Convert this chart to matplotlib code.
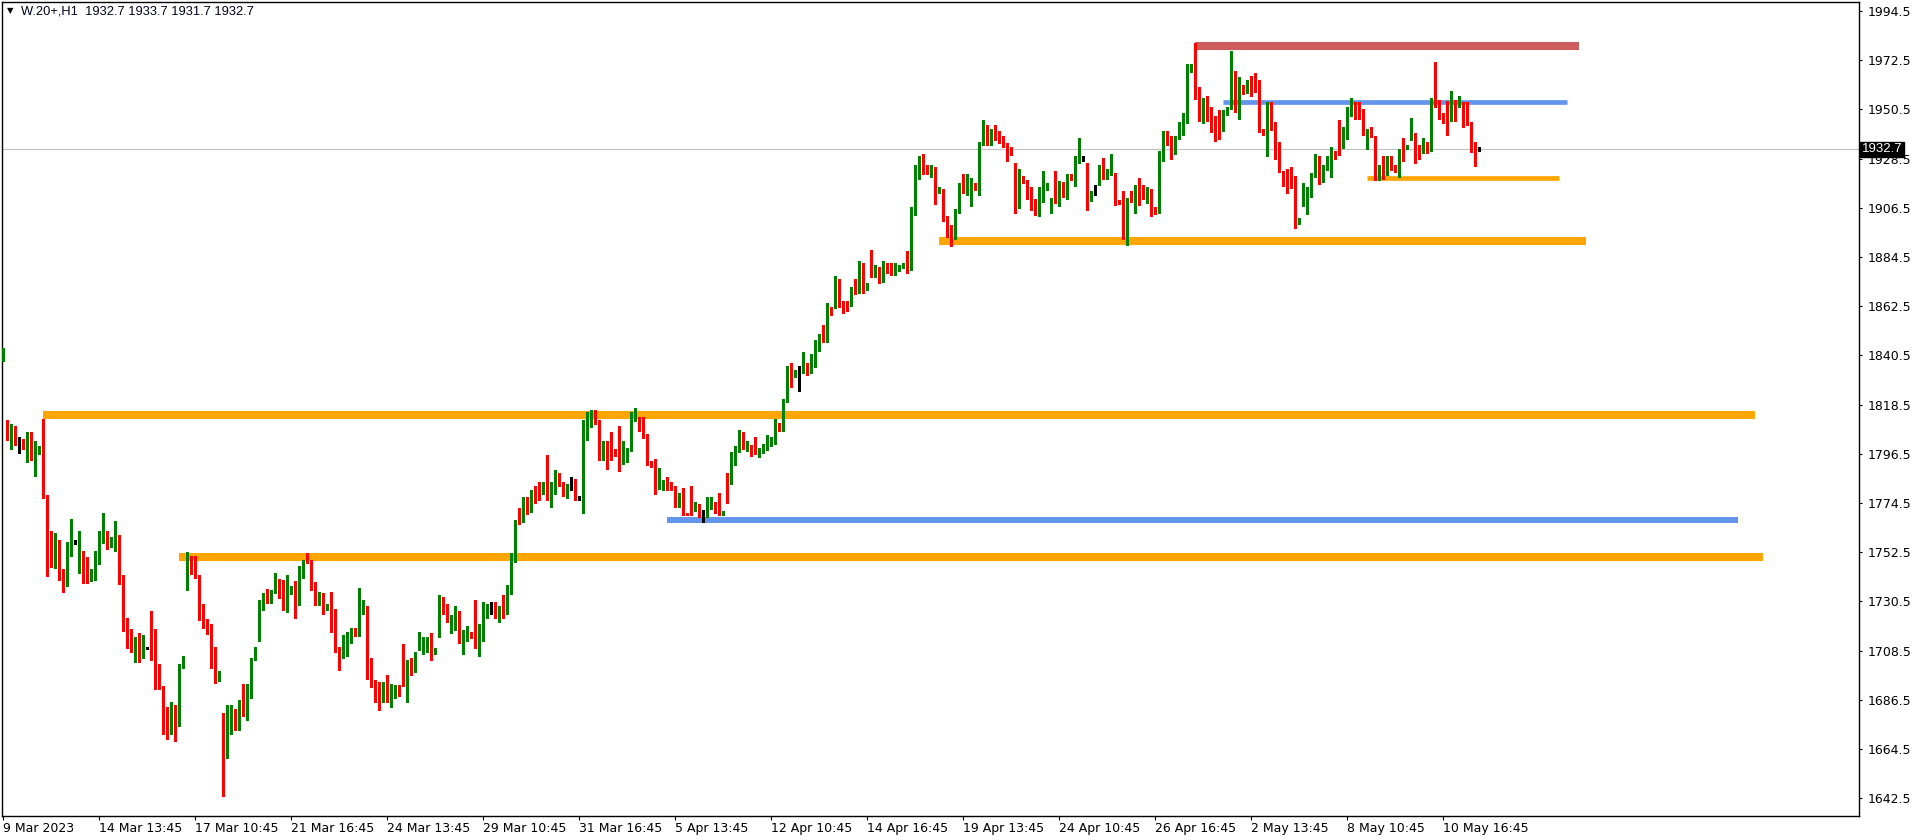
import matplotlib
matplotlib.use("Agg")
import matplotlib.pyplot as plt
import matplotlib.transforms as mtransforms
import numpy as np

# ─────────────────────────────────────────────
# DATOS: velas H1 de W.20+
# ─────────────────────────────────────────────
OPEN = [
    1838.4, 1810.8, 1805.1, 1806.3, 1803.3, 1802.4, 1799.7, 1805.4, 1793.8, 1797.1,
    1811.7, 1778.0, 1753.2, 1747.9, 1756.2, 1739.2, 1737.2, 1755.0, 1756.2, 1746.1,
    1749.1, 1748.2, 1741.3, 1745.2, 1747.9, 1758.9, 1761.0, 1755.9, 1754.4, 1756.2,
    1741.3, 1721.4, 1718.1, 1708.9, 1714.2, 1708.0, 1709.1, 1718.7, 1716.3, 1696.3,
    1691.3, 1675.8, 1674.0, 1679.3, 1674.9, 1700.8, 1744.6, 1749.7, 1747.3, 1742.5,
    1726.4, 1722.6, 1719.6, 1704.4, 1695.1, 1677.3, 1660.3, 1671.6, 1681.7, 1673.1,
    1684.4, 1682.0, 1688.0, 1704.1, 1723.2, 1730.9, 1732.7, 1733.0, 1734.2, 1740.4,
    1735.4, 1728.2, 1733.9, 1738.9, 1730.0, 1743.7, 1749.4, 1748.2, 1735.1, 1730.6,
    1734.2, 1726.7, 1725.8, 1721.4, 1710.0, 1705.0, 1709.7, 1712.1, 1717.2, 1715.1,
    1725.0, 1726.7, 1697.2, 1695.4, 1691.6, 1687.1, 1690.7, 1686.2, 1689.3, 1690.7,
    1699.9, 1694.0, 1700.5, 1699.9, 1708.9, 1711.2, 1711.2, 1713.3, 1708.1, 1715.4,
    1731.2, 1726.4, 1720.2, 1721.1, 1724.6, 1712.1, 1713.9, 1715.7, 1729.1, 1711.2,
    1713.0, 1727.3, 1728.5, 1729.4, 1723.1, 1727.6, 1727.0, 1736.0, 1750.0, 1767.2,
    1765.8, 1774.1, 1772.0, 1780.4, 1779.5, 1778.6, 1789.9, 1775.0, 1778.6, 1788.1,
    1783.9, 1780.1, 1780.9, 1782.2, 1777.1, 1770.2, 1806.0, 1808.7, 1811.4, 1809.9,
    1794.4, 1801.5, 1799.1, 1797.4, 1801.2, 1792.0, 1797.1, 1798.8, 1811.7, 1812.9,
    1806.3, 1803.9, 1793.2, 1788.4, 1780.9, 1781.9, 1783.0, 1782.2, 1782.2, 1773.8,
    1777.1, 1769.9, 1772.6, 1770.8, 1772.3, 1769.3, 1769.9, 1772.9, 1774.1, 1770.8,
    1769.0, 1784.8, 1782.8, 1795.6, 1799.7, 1805.4, 1799.7, 1800.6, 1800.0, 1796.8,
    1798.3, 1799.5, 1802.0, 1802.7, 1809.0, 1806.9, 1821.5, 1832.2, 1831.6, 1833.1,
    1832.8, 1834.9, 1832.8, 1835.5, 1844.7, 1848.0, 1846.5, 1862.3, 1868.8, 1871.2,
    1864.1, 1864.1, 1862.6, 1871.8, 1870.6, 1881.9, 1869.7, 1879.0, 1877.5, 1878.7,
    1873.3, 1881.1, 1879.0, 1877.2, 1879.0, 1880.5, 1887.0, 1878.7, 1903.4, 1921.9,
    1927.8, 1924.6, 1921.6, 1923.1, 1913.5, 1914.4, 1902.8, 1896.9, 1892.7, 1904.3,
    1917.4, 1912.3, 1915.3, 1916.5, 1915.0, 1936.5, 1941.6, 1937.4, 1941.6, 1936.8,
    1936.8, 1934.4, 1932.6, 1924.3, 1906.4, 1920.7, 1917.7, 1915.7, 1906.9, 1906.4,
    1911.5, 1915.4, 1907.3, 1910.0, 1907.3, 1916.9, 1913.3, 1920.7, 1919.5, 1926.7,
    1928.8, 1923.4, 1909.7, 1913.9, 1916.6, 1922.8, 1919.5, 1921.0, 1921.9, 1909.1,
    1898.4, 1892.7, 1910.3, 1910.0, 1916.6, 1912.7, 1910.6, 1913.9, 1906.7, 1904.3,
    1929.4, 1938.8, 1937.7, 1930.6, 1937.4, 1939.2, 1944.6, 1967.2, 1980.3, 1960.7,
    1947.6, 1954.7, 1949.6, 1946.7, 1941.2, 1940.7, 1947.9, 1951.7, 1966.6, 1954.4,
    1961.0, 1957.7, 1963.8, 1962.9, 1962.8, 1940.7, 1933.9, 1952.9, 1944.0, 1934.4,
    1922.8, 1919.8, 1919.0, 1918.1, 1900.5, 1908.2, 1910.6, 1911.5, 1920.4, 1928.8,
    1919.5, 1925.2, 1927.6, 1931.8, 1941.3, 1933.3, 1938.0, 1949.3, 1951.7, 1948.2,
    1947.6, 1938.3, 1941.9, 1935.0, 1920.4, 1923.9, 1922.5, 1928.8, 1925.8, 1922.5,
    1933.6, 1932.7, 1938.3, 1938.6, 1933.6, 1930.9, 1933.6, 1931.8, 1954.4, 1951.4,
    1946.9, 1954.1, 1950.5, 1954.7, 1951.4, 1952.6, 1949.9, 1944.9, 1935.9, 1932.7,
]
HIGH = [
    1843.8, 1811.4, 1809.9, 1809.0, 1804.2, 1803.3, 1806.3, 1806.3, 1802.4, 1800.0,
    1812.0, 1778.0, 1761.9, 1761.0, 1758.0, 1744.9, 1757.1, 1767.3, 1758.0, 1761.9,
    1752.9, 1750.3, 1744.9, 1752.9, 1761.9, 1769.9, 1761.9, 1759.2, 1766.4, 1760.1,
    1742.2, 1723.2, 1718.1, 1714.5, 1716.3, 1715.7, 1710.3, 1726.4, 1718.1, 1702.6,
    1692.5, 1683.5, 1685.6, 1684.4, 1702.6, 1706.2, 1752.4, 1750.6, 1750.6, 1742.5,
    1729.4, 1722.6, 1720.5, 1710.3, 1699.6, 1680.5, 1684.4, 1684.4, 1682.6, 1686.5,
    1693.4, 1693.4, 1705.3, 1710.0, 1731.2, 1734.2, 1736.0, 1735.4, 1743.4, 1740.4,
    1740.1, 1742.2, 1737.5, 1739.5, 1746.4, 1749.1, 1752.1, 1749.1, 1739.2, 1734.8,
    1734.2, 1729.4, 1734.5, 1727.3, 1710.0, 1715.7, 1716.9, 1718.4, 1718.4, 1736.6,
    1731.2, 1728.5, 1705.3, 1695.4, 1694.5, 1694.5, 1697.5, 1693.4, 1693.1, 1693.1,
    1711.5, 1704.4, 1705.3, 1707.7, 1716.6, 1714.8, 1714.5, 1716.3, 1709.7, 1733.3,
    1732.4, 1729.4, 1724.3, 1728.5, 1726.4, 1717.5, 1719.3, 1716.6, 1731.2, 1720.2,
    1730.3, 1729.4, 1730.3, 1730.3, 1728.5, 1733.3, 1738.0, 1752.3, 1767.0, 1772.3,
    1777.1, 1777.1, 1780.4, 1782.2, 1783.9, 1783.9, 1795.9, 1783.9, 1789.3, 1788.1,
    1783.9, 1783.0, 1786.3, 1785.4, 1777.1, 1811.4, 1815.2, 1816.1, 1816.1, 1811.4,
    1802.4, 1802.4, 1806.3, 1798.5, 1809.0, 1802.1, 1799.1, 1815.2, 1817.0, 1812.9,
    1812.9, 1805.4, 1793.2, 1794.1, 1790.2, 1784.8, 1786.3, 1783.9, 1782.2, 1778.9,
    1781.3, 1769.9, 1782.2, 1775.0, 1774.1, 1771.4, 1777.1, 1777.1, 1775.0, 1778.9,
    1770.8, 1787.8, 1797.1, 1800.0, 1807.2, 1806.3, 1802.4, 1800.6, 1803.9, 1799.0,
    1801.0, 1805.0, 1804.2, 1812.2, 1810.2, 1820.9, 1835.8, 1837.0, 1834.0, 1835.8,
    1842.0, 1837.3, 1841.1, 1847.4, 1850.1, 1854.2, 1863.8, 1862.3, 1876.0, 1874.8,
    1865.0, 1865.0, 1870.9, 1874.5, 1882.8, 1881.9, 1872.7, 1887.6, 1881.0, 1879.9,
    1882.5, 1882.0, 1882.0, 1881.7, 1881.1, 1881.7, 1887.0, 1907.0, 1925.5, 1929.6,
    1930.5, 1925.8, 1925.5, 1924.6, 1915.6, 1915.0, 1902.8, 1898.6, 1905.8, 1917.7,
    1921.6, 1921.6, 1919.8, 1917.4, 1935.9, 1945.7, 1943.3, 1941.9, 1943.3, 1940.7,
    1938.6, 1935.3, 1933.5, 1926.4, 1923.7, 1920.7, 1918.7, 1915.7, 1910.6, 1915.7,
    1922.8, 1917.5, 1910.9, 1922.8, 1918.4, 1917.8, 1921.6, 1921.6, 1929.7, 1937.7,
    1929.7, 1926.4, 1913.9, 1916.6, 1925.5, 1928.8, 1923.7, 1930.6, 1921.9, 1910.0,
    1913.9, 1910.9, 1913.9, 1916.6, 1919.8, 1916.6, 1915.7, 1914.8, 1906.7, 1931.8,
    1941.0, 1941.0, 1938.6, 1938.6, 1944.9, 1948.8, 1970.8, 1970.8, 1980.3, 1960.7,
    1955.6, 1956.5, 1951.4, 1947.6, 1950.2, 1950.2, 1951.4, 1976.8, 1967.5, 1964.8,
    1961.6, 1963.6, 1965.4, 1966.9, 1963.6, 1941.6, 1953.8, 1953.8, 1944.9, 1935.9,
    1922.8, 1923.7, 1924.9, 1920.7, 1902.0, 1917.5, 1915.7, 1921.9, 1930.6, 1929.7,
    1925.8, 1929.7, 1933.5, 1931.8, 1945.8, 1942.5, 1951.4, 1955.6, 1953.8, 1953.8,
    1950.8, 1941.9, 1942.8, 1938.6, 1925.8, 1929.7, 1929.7, 1929.7, 1925.8, 1932.7,
    1937.7, 1934.4, 1946.7, 1939.8, 1934.7, 1937.7, 1935.9, 1955.6, 1971.7, 1954.7,
    1948.8, 1954.1, 1958.6, 1954.7, 1956.5, 1953.8, 1953.8, 1944.9, 1935.9, 1933.7,
]
LOW = [
    1838.0, 1802.7, 1798.8, 1800.6, 1796.8, 1798.8, 1792.9, 1793.8, 1786.6, 1796.5,
    1776.8, 1742.0, 1746.1, 1745.5, 1740.1, 1734.8, 1737.2, 1750.9, 1756.2, 1743.1,
    1738.9, 1738.9, 1739.8, 1740.1, 1747.0, 1756.8, 1754.1, 1755.0, 1753.2, 1738.1,
    1717.2, 1709.7, 1708.0, 1703.2, 1703.2, 1705.0, 1709.1, 1704.1, 1691.3, 1691.3,
    1671.0, 1669.2, 1671.0, 1668.3, 1674.9, 1700.8, 1735.7, 1742.8, 1741.0, 1722.0,
    1718.7, 1716.1, 1700.8, 1694.2, 1695.1, 1643.5, 1660.3, 1671.0, 1673.1, 1673.1,
    1679.1, 1677.3, 1687.1, 1704.1, 1713.0, 1726.7, 1730.0, 1730.0, 1734.2, 1731.8,
    1726.7, 1725.8, 1733.9, 1722.9, 1729.1, 1741.0, 1747.6, 1735.7, 1728.8, 1729.1,
    1724.9, 1726.7, 1716.9, 1708.0, 1699.9, 1705.0, 1705.9, 1712.1, 1715.1, 1715.1,
    1725.0, 1696.0, 1692.2, 1685.3, 1682.0, 1685.3, 1685.3, 1683.2, 1687.1, 1688.3,
    1692.5, 1685.3, 1697.5, 1699.0, 1708.9, 1707.1, 1708.0, 1704.1, 1707.1, 1714.8,
    1724.9, 1721.1, 1716.3, 1717.8, 1712.1, 1707.1, 1713.0, 1714.2, 1709.7, 1705.9,
    1713.0, 1722.9, 1724.9, 1722.9, 1721.1, 1722.9, 1725.0, 1734.0, 1747.9, 1764.9,
    1765.8, 1769.6, 1770.5, 1774.7, 1775.9, 1778.6, 1775.9, 1772.9, 1778.6, 1781.9,
    1777.7, 1776.8, 1780.1, 1775.9, 1775.9, 1770.2, 1802.7, 1808.7, 1809.6, 1793.8,
    1793.5, 1789.9, 1793.8, 1795.6, 1789.0, 1792.0, 1792.9, 1797.9, 1811.1, 1806.9,
    1803.6, 1791.7, 1790.8, 1778.6, 1780.9, 1780.1, 1780.1, 1780.1, 1772.9, 1772.9,
    1769.0, 1769.0, 1769.0, 1770.8, 1768.1, 1765.8, 1768.1, 1772.0, 1769.9, 1769.0,
    1769.0, 1774.7, 1782.8, 1791.7, 1797.1, 1798.8, 1797.9, 1795.6, 1796.5, 1795.0,
    1797.0, 1798.0, 1800.0, 1801.0, 1806.9, 1806.9, 1819.7, 1826.5, 1831.0, 1824.7,
    1832.8, 1831.9, 1832.8, 1835.5, 1842.6, 1846.5, 1846.5, 1858.7, 1861.7, 1862.3,
    1859.6, 1860.5, 1862.6, 1867.9, 1868.5, 1868.5, 1869.7, 1875.7, 1875.7, 1872.7,
    1873.3, 1877.5, 1876.3, 1876.6, 1878.1, 1879.6, 1877.2, 1878.7, 1903.4, 1919.5,
    1921.6, 1921.6, 1920.4, 1908.2, 1913.0, 1900.4, 1893.6, 1889.4, 1892.7, 1904.3,
    1913.2, 1912.3, 1907.3, 1914.4, 1912.3, 1934.7, 1934.7, 1934.4, 1936.8, 1935.6,
    1933.5, 1927.6, 1930.2, 1904.3, 1906.4, 1917.7, 1910.6, 1905.5, 1903.2, 1902.6,
    1909.1, 1914.5, 1904.3, 1908.8, 1907.3, 1911.5, 1910.6, 1918.7, 1916.3, 1926.4,
    1927.6, 1905.5, 1909.7, 1912.4, 1916.6, 1919.5, 1919.5, 1921.0, 1907.6, 1908.2,
    1892.7, 1889.7, 1909.1, 1904.3, 1907.9, 1910.6, 1908.5, 1902.6, 1903.5, 1904.3,
    1927.6, 1934.4, 1928.5, 1930.6, 1937.4, 1939.2, 1944.6, 1967.2, 1955.3, 1945.5,
    1944.6, 1945.5, 1940.4, 1936.5, 1937.4, 1940.7, 1947.9, 1950.8, 1949.3, 1946.4,
    1957.4, 1957.7, 1956.5, 1958.3, 1940.4, 1939.2, 1929.7, 1941.3, 1928.5, 1922.5,
    1916.3, 1913.3, 1915.4, 1897.5, 1899.3, 1907.3, 1903.5, 1911.5, 1920.4, 1917.2,
    1917.8, 1923.4, 1920.4, 1928.5, 1930.3, 1933.3, 1937.1, 1947.6, 1946.4, 1946.4,
    1939.2, 1932.7, 1938.3, 1918.7, 1918.7, 1919.5, 1921.3, 1923.4, 1922.5, 1920.4,
    1927.6, 1932.7, 1936.8, 1926.4, 1928.5, 1930.9, 1930.9, 1931.8, 1951.4, 1946.4,
    1944.6, 1939.2, 1945.5, 1945.5, 1951.4, 1942.5, 1943.4, 1931.5, 1925.2, 1931.7,
]
CLOSE = [
    1842.9, 1806.0, 1807.2, 1802.7, 1803.3, 1800.6, 1805.1, 1793.8, 1797.1, 1799.1,
    1778.6, 1753.2, 1749.1, 1756.2, 1740.1, 1738.1, 1756.2, 1756.2, 1756.2, 1749.4,
    1747.9, 1741.3, 1744.9, 1749.1, 1758.3, 1761.0, 1756.8, 1759.2, 1756.2, 1739.8,
    1721.1, 1717.8, 1708.0, 1713.3, 1708.9, 1709.4, 1709.1, 1716.3, 1696.9, 1693.1,
    1674.9, 1674.9, 1679.3, 1675.5, 1702.6, 1706.2, 1749.1, 1747.0, 1741.0, 1725.8,
    1722.6, 1719.9, 1704.1, 1695.1, 1698.7, 1661.2, 1672.8, 1681.7, 1673.1, 1684.7,
    1682.0, 1689.5, 1702.6, 1709.1, 1731.2, 1733.3, 1730.9, 1734.5, 1740.1, 1734.2,
    1727.3, 1735.1, 1737.5, 1730.0, 1743.4, 1749.1, 1748.5, 1735.7, 1730.6, 1732.7,
    1727.3, 1729.4, 1722.0, 1711.2, 1704.1, 1709.1, 1712.4, 1716.3, 1715.1, 1726.1,
    1731.2, 1696.0, 1695.1, 1690.1, 1688.0, 1691.6, 1687.1, 1688.9, 1689.5, 1688.3,
    1692.5, 1699.6, 1699.0, 1707.7, 1710.3, 1711.5, 1713.3, 1707.1, 1708.5, 1731.2,
    1725.8, 1721.1, 1722.3, 1725.5, 1713.0, 1713.3, 1716.6, 1715.1, 1711.2, 1714.2,
    1727.3, 1728.5, 1728.5, 1724.3, 1728.5, 1727.0, 1736.0, 1751.2, 1766.7, 1765.8,
    1775.0, 1772.9, 1778.9, 1778.6, 1778.0, 1783.9, 1775.9, 1783.9, 1787.2, 1784.8,
    1778.9, 1782.1, 1780.9, 1776.8, 1777.1, 1807.2, 1809.9, 1812.3, 1811.2, 1793.8,
    1802.4, 1797.9, 1795.6, 1796.5, 1790.8, 1795.9, 1798.3, 1812.3, 1812.9, 1806.9,
    1804.5, 1792.9, 1790.8, 1781.9, 1783.0, 1783.0, 1780.9, 1780.9, 1773.8, 1777.1,
    1769.0, 1769.0, 1769.9, 1773.2, 1769.0, 1769.3, 1774.1, 1775.0, 1771.1, 1769.0,
    1770.8, 1782.8, 1797.1, 1800.0, 1805.1, 1798.8, 1801.5, 1797.9, 1797.9, 1798.3,
    1799.5, 1801.5, 1803.4, 1809.8, 1807.8, 1820.9, 1832.2, 1832.0, 1834.0, 1833.1,
    1834.0, 1833.4, 1834.9, 1846.2, 1848.0, 1846.5, 1863.8, 1858.7, 1872.1, 1864.4,
    1861.7, 1862.6, 1870.9, 1869.7, 1881.9, 1869.4, 1872.7, 1876.6, 1879.9, 1873.3,
    1879.9, 1879.6, 1878.4, 1879.9, 1880.2, 1880.8, 1878.1, 1905.8, 1921.6, 1928.7,
    1923.4, 1922.5, 1923.7, 1914.4, 1914.7, 1900.4, 1895.4, 1893.0, 1905.8, 1916.8,
    1913.2, 1916.5, 1916.5, 1914.4, 1935.0, 1942.5, 1936.5, 1940.7, 1936.8, 1935.6,
    1933.5, 1931.7, 1930.2, 1906.4, 1920.7, 1917.7, 1915.4, 1907.3, 1906.7, 1911.8,
    1916.0, 1917.5, 1910.9, 1908.8, 1917.5, 1912.4, 1920.7, 1918.7, 1926.4, 1929.7,
    1928.8, 1909.7, 1913.9, 1913.9, 1923.7, 1919.5, 1921.9, 1922.8, 1907.6, 1908.2,
    1892.7, 1910.9, 1910.0, 1916.6, 1912.4, 1911.5, 1913.6, 1906.7, 1903.5, 1929.7,
    1939.5, 1938.6, 1931.5, 1938.6, 1940.1, 1944.9, 1968.4, 1968.4, 1961.6, 1948.8,
    1954.7, 1948.8, 1945.8, 1940.7, 1941.0, 1948.8, 1951.4, 1967.5, 1954.1, 1960.4,
    1958.3, 1963.6, 1963.6, 1962.6, 1940.4, 1939.5, 1952.3, 1943.1, 1933.3, 1923.4,
    1918.7, 1918.7, 1917.2, 1900.2, 1902.0, 1911.8, 1911.8, 1920.7, 1929.7, 1920.4,
    1925.8, 1928.8, 1930.6, 1929.4, 1933.3, 1938.6, 1950.8, 1950.8, 1947.3, 1946.4,
    1940.4, 1941.0, 1938.3, 1919.5, 1924.0, 1923.7, 1929.7, 1924.3, 1922.5, 1932.7,
    1931.8, 1934.4, 1939.8, 1934.4, 1931.8, 1933.6, 1931.8, 1955.6, 1952.3, 1947.3,
    1946.7, 1951.4, 1953.8, 1952.6, 1953.8, 1948.8, 1945.8, 1933.3, 1930.3, 1932.7,
]

# Etiquetas del eje de tiempo (una cada 24 barras)
ETIQUETAS_FECHA = [
    "9 Mar 2023", "14 Mar 13:45", "17 Mar 10:45", "21 Mar 16:45",
    "24 Mar 13:45", "29 Mar 10:45", "31 Mar 16:45", "5 Apr 13:45",
    "12 Apr 10:45", "14 Apr 16:45", "19 Apr 13:45", "24 Apr 10:45",
    "26 Apr 16:45", "2 May 13:45", "8 May 10:45", "10 May 16:45",
]
PRECIOS_EJE = [1642.5 + 22 * i for i in range(17)]

# Niveles horizontales: precio, barra inicial, barra final
NIVEL_PRECIO = [1813.9, 1750.4, 1767.0, 1891.6, 1978.8, 1953.7, 1919.7]
NIVEL_INICIO = [9.9, 43.9, 166.0, 234.0, 298.0, 305.0, 341.0]
NIVEL_FIN = [437.9, 440.0, 433.7, 395.7, 393.9, 391.0, 389.0]
NIVEL_COLOR = ["#FFA500", "#FFA500", "#6495ED", "#FFA500", "#CD5C5C", "#6495ED", "#FFA500"]
NIVEL_GROSOR = [5.8, 5.8, 4.3, 5.8, 5.8, 3.4, 3.4]

SIMBOLO = "W.20+,H1"

# ─────────────────────────────────────────────
# FIGURA
# ─────────────────────────────────────────────
W, H = 1916, 840
fig = plt.figure(figsize=(W / 100, H / 100), dpi=100)
fig.patch.set_facecolor("white")
ax = fig.add_axes([2 / W, 1 - 816 / H, (1859 - 2) / W, (816 - 2) / H])

plt.rcParams["font.family"] = ["Liberation Sans", "DejaVu Sans"]

o = np.array(OPEN)
h = np.array(HIGH)
l = np.array(LOW)
c = np.array(CLOSE)
x = np.arange(len(c))

colores = np.where(c > o, "#008000", np.where(c < o, "#FF0000", "#000000"))

# Niveles (por debajo de las velas)
for p, x0, x1, col, lw in zip(NIVEL_PRECIO, NIVEL_INICIO, NIVEL_FIN, NIVEL_COLOR, NIVEL_GROSOR):
    ax.plot([x0, x1], [p, p], color=col, lw=lw, solid_capstyle="butt", zorder=1)

# Línea de precio actual
ax.axhline(c[-1], color="#C0C0C0", lw=0.8, zorder=0.5)

# Velas
ax.vlines(x, l, h, colors=colores, lw=1.0, zorder=3, antialiased=False)
cuerpo = np.maximum(np.abs(c - o), 0.45)
ax.bar(x, cuerpo, bottom=np.minimum(o, c), width=0.68, color=colores,
       linewidth=0, zorder=3, antialiased=False)

ax.set_xlim((2 - 3.3) / 4, (1859 - 3.3) / 4)
ax.set_ylim(1634.55, 1998.5)

# Eje de precios a la derecha
ax.yaxis.tick_right()
ax.set_yticks(PRECIOS_EJE)
ax.set_yticklabels([f"{v:.1f}" for v in PRECIOS_EJE], fontsize=9)
ax.tick_params(axis="y", direction="out", length=2.5, width=0.8, pad=4)

# Eje de tiempo
ax.set_xticks(np.arange(len(ETIQUETAS_FECHA)) * 24)
ax.set_xticklabels(ETIQUETAS_FECHA, fontsize=9)
for t in ax.get_xticklabels():
    t.set_horizontalalignment("left")
ax.tick_params(axis="x", direction="out", length=3, width=0.8, pad=1.5)

for s in ax.spines.values():
    s.set_color("black")
    s.set_linewidth(1)

# Etiqueta del último precio
trans = mtransforms.blended_transform_factory(ax.transAxes, ax.transData)
ax.text(1.0015, c[-1], f"{c[-1]:.1f}", transform=trans, fontsize=9.5,
        color="white", va="center", ha="left", clip_on=False, zorder=10,
        bbox=dict(boxstyle="square,pad=0.12", fc="black", ec="black"))

# Cabecera
fig.text(7 / W, 1 - 11 / H, "▼", fontsize=6, family="DejaVu Sans",
         va="center", ha="left", color="black")
fig.text(21 / W, 1 - 11 / H,
         f"{SIMBOLO}  {o[-1]:.1f} {h[-1]:.1f} {l[-1]:.1f} {c[-1]:.1f}",
         fontsize=9.3, va="center", ha="left", color="#000020")

fig.savefig("out.png", dpi=100, facecolor="white")
